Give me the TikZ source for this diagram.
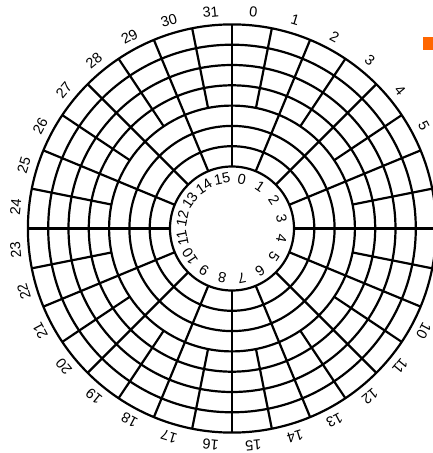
\documentclass[tikz,border=0pt]{standalone}
\usepackage{fontspec}
\setmainfont{Liberation Sans}
\definecolor{markorange}{HTML}{FF6600}

\begin{document}
\begin{tikzpicture}[x=1pt,y=1pt,line width=2.2pt,
  seclabel/.style={font=\fontsize{14.5}{14.5}\selectfont,inner sep=0pt}]
  \useasboundingbox (-232,-224.5) rectangle (201,228.5);
  \clip (-232,-224.5) rectangle (201,228.5);
  % Tracks
  \foreach \r in {62,82.3,102.6,122.9,143.2,163.5,183.8,204.1}{\draw (0,0) circle (\r);}
  % Sector borders, inner zone (16 sectors) running out to the rim
  \foreach \k in {0,...,15}{\draw ({90-22.5*\k}:62) -- ({90-22.5*\k}:204.1);}
  % Extra sector borders, outer zone (32 sectors)
  \foreach \k in {0,...,15}{\draw ({78.75-22.5*\k}:122.9) -- ({78.75-22.5*\k}:204.1);}
  % Sector numbers
  \foreach \k in {0,...,31}{\node[seclabel,rotate={-5.625-11.25*\k}] (out\k) at ({84.375-11.25*\k}:217.5) {\k};}
  \foreach \k in {0,...,15}{\node[seclabel,rotate={-11.25-22.5*\k}] (in\k) at ({78.75-22.5*\k}:50.5) {\k};}
  % Marker
  \fill[markorange] (191.5,178.5) rectangle (205,191.5);
\end{tikzpicture}
\end{document}
